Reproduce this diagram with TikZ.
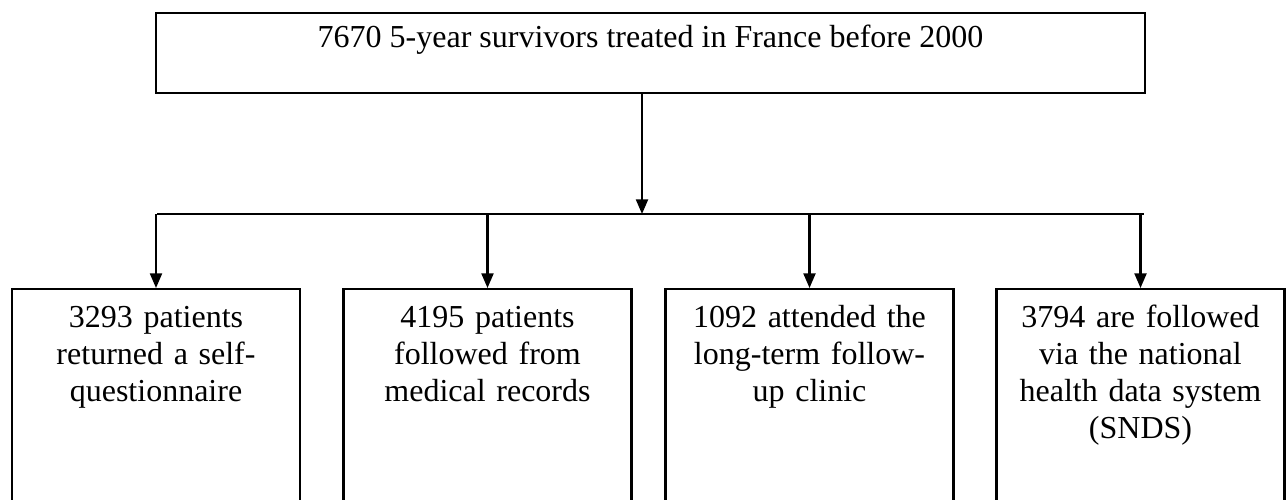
\documentclass[tikz,border=0pt]{standalone}
\usepackage{fontspec}
\setmainfont{Liberation Serif}
\usepackage{tikz}
\usetikzlibrary{arrows.meta, calc}
\tikzstyle{cohort}=[rectangle, draw=black, thick, anchor=north, minimum width=370.9pt, inner ysep=4.25pt, text height=8.5pt, text depth=13pt, font=\fontsize{12}{13.9}\selectfont]
\tikzstyle{source}=[rectangle, draw=black, thick, anchor=north, text width=100pt, inner xsep=4pt, inner ysep=5.75pt, align=center, text height=8.5pt, text depth=75pt, font=\fontsize{12}{13.9}\selectfont]
\tikzstyle{arrow}=[thick, -{Triangle[length=5.5pt, width=4.5pt]}]

\begin{document}
\begin{tikzpicture}[x=0.375pt, y=-0.375pt]
	\def \bary {214}
	\useasboundingbox (0,0) rectangle (1287,499);
	\clip (0,0) rectangle (1287,499);

		\node[cohort] (all) at (650.5,12) {7670 5-year survivors treated in France before 2000};
		\node[source] (quest) at (156,288) {3293 patients\\returned a self-\\questionnaire};
		\node[source] (records) at (487.5,288) {4195 patients\\followed from\\medical records};
		\node[source] (clinic) at (809.5,288) {1092 attended the\\long-term follow-\\up clinic};
		\node[source] (snds) at (1140.5,288) {3794 are followed\\via the national\\health data system\\(SNDS)};

		\coordinate (barl) at (157,\bary);
		\coordinate (barr) at (1144,\bary);
		\draw[thick] (barl) -- (barr);
		\draw[arrow] (all.south -| 642,0) -- (642,\bary);
		\foreach \b in {quest, records, clinic, snds}
			\draw[arrow] (\b.north |- barl) -- (\b.north);
\end{tikzpicture}
\end{document}
